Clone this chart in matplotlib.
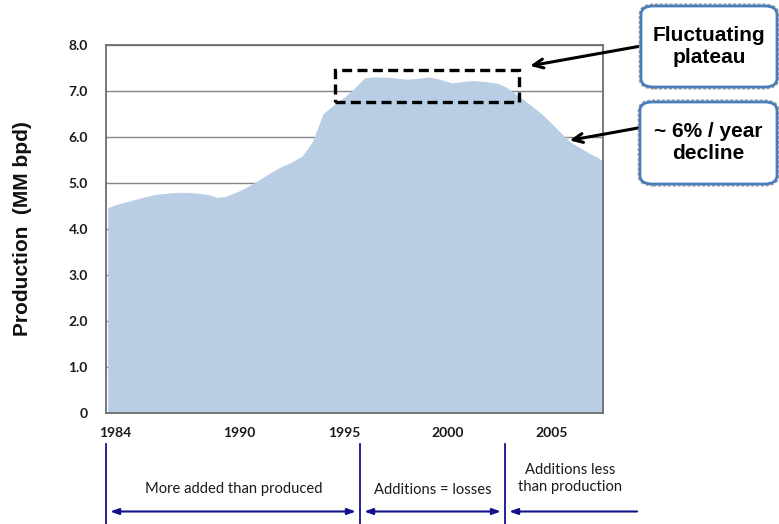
import matplotlib
matplotlib.use("Agg")
import matplotlib.pyplot as plt
from matplotlib.patches import FancyBboxPatch, Rectangle
from matplotlib.transforms import blended_transform_factory

# Production history (decimal year, MM bpd)
years = [1983.65, 1984.0, 1984.5, 1985.0, 1985.5, 1986.0, 1986.5, 1987.0, 1987.5,
         1988.0, 1988.5, 1988.9, 1989.3, 1989.7, 1990.2, 1990.7, 1991.2, 1991.9,
         1992.5, 1993.0, 1993.5, 1994.0, 1994.6, 1995.0, 1995.5, 1996.0, 1996.5,
         1997.2, 1997.6, 1998.0, 1998.6, 1999.1, 1999.6, 2000.2, 2000.7, 2001.2,
         2001.8, 2002.4, 2002.8, 2003.2, 2003.6, 2004.0, 2004.5, 2004.9, 2005.4,
         2005.9, 2006.4, 2006.8, 2007.2, 2007.46]
production = [4.45, 4.52, 4.58, 4.64, 4.70, 4.75, 4.77, 4.79, 4.79,
              4.77, 4.74, 4.68, 4.70, 4.77, 4.87, 5.00, 5.14, 5.33,
              5.45, 5.58, 5.90, 6.50, 6.72, 6.85, 7.05, 7.28, 7.30,
              7.29, 7.27, 7.25, 7.27, 7.30, 7.25, 7.17, 7.20, 7.22,
              7.20, 7.16, 7.08, 6.95, 6.82, 6.68, 6.50, 6.33, 6.10,
              5.88, 5.75, 5.64, 5.55, 5.46]

ytick_values = [0, 1, 2, 3, 4, 5, 6, 7, 8]
ytick_labels = ["0", "1.0", "2.0", "3.0", "4.0", "5.0", "6.0", "7.0", "8.0"]
xtick_values = [1984, 1990, 1995, 2000, 2005]
xtick_labels = ["1984", "1990", "1995", "2000", "2005"]

# Plateau window and phase boundaries (years)
plateau_years = (1994.6, 2003.4)
plateau_levels = (6.76, 7.45)
phase_bounds = [1983.57, 1995.78, 2002.75]
phase_labels = ["More added than produced", "Additions = losses",
                "Additions less\nthan production"]

W, H = 779, 524
fig = plt.figure(figsize=(W / 100, H / 100), dpi=100)
fig.patch.set_facecolor("white")


def fx(px):
    return px / W


def fy(py):
    return 1 - py / H


ax = fig.add_axes([fx(106), fy(412.7), fx(603) - fx(106), fy(44.7) - fy(412.7)])
ax.set_xlim(1983.57, 2007.46)
ax.set_ylim(0, 8)

ax.fill_between(years, production, 0, color="#b9cde5", lw=0, zorder=2)

ax.set_yticks(ytick_values)
ax.set_yticklabels(ytick_labels)
ax.set_xticks(xtick_values)
ax.set_xticklabels(xtick_labels)
ax.tick_params(length=0, pad=13)
ax.tick_params(axis="x", pad=10)
for lab in ax.get_xticklabels() + ax.get_yticklabels():
    lab.set_fontfamily("Lato")
    lab.set_fontweight("bold")
    lab.set_fontsize(10)
    lab.set_color("#1a1a1a")

ax.grid(axis="y", color="#868686", lw=1, zorder=1)
ax.set_axisbelow(True)
for s in ax.spines.values():
    s.set_color("#6e6e6e")
    s.set_linewidth(1.3)

ax.set_ylabel("Production  (MM bpd)", fontfamily="Liberation Sans",
              fontweight="bold", fontsize=15, color="#111111")
ax.yaxis.set_label_coords((32 - 106) / (603 - 106), 0.5)

# Dashed box around the plateau
ax.add_patch(Rectangle((plateau_years[0], plateau_levels[0]),
                       plateau_years[1] - plateau_years[0],
                       plateau_levels[1] - plateau_levels[0],
                       fill=False, ec="black", lw=2.4, ls=(0, (3.0, 1.6)),
                       zorder=4, clip_on=False))

# Callout boxes on the right
for (x0, y0, x1, y1), txt in [((641, 6, 777, 87), "Fluctuating\nplateau"),
                              ((640, 102, 777, 184), "~ 6% / year\ndecline")]:
    shadow = FancyBboxPatch((fx(x0) - 0.001, fy(y1) - 0.002),
                            fx(x1 - x0) + 0.002, fy(y0) - fy(y1) + 0.004,
                            boxstyle="round,pad=0,rounding_size=0.018",
                            transform=fig.transFigure, fc="none",
                            ec="#a0a0a0", lw=2.2, ls=(0, (1, 0.6)), zorder=5)
    fig.add_artist(shadow)
    box = FancyBboxPatch((fx(x0), fy(y1)), fx(x1 - x0), fy(y0) - fy(y1),
                         boxstyle="round,pad=0,rounding_size=0.016",
                         transform=fig.transFigure, fc="white",
                         ec="#4a7ebb", lw=2.0, zorder=6)
    fig.add_artist(box)
    fig.text(fx((x0 + x1) / 2), fy((y0 + y1) / 2), txt, ha="center",
             va="center", fontfamily="Liberation Sans", fontweight="bold",
             fontsize=15, color="black", linespacing=1.2, zorder=7)

# Callout arrows
head = dict(arrowstyle="->,head_length=0.7,head_width=0.32",
            color="black", lw=2.2, shrinkA=0, shrinkB=0)
ax.annotate("", xy=(2003.95, 7.54), xycoords="data",
            xytext=(fx(641), fy(46)), textcoords="figure fraction",
            arrowprops=head, annotation_clip=False, zorder=8)
ax.annotate("", xy=(2005.85, 5.92), xycoords="data",
            xytext=(fx(638), fy(128)), textcoords="figure fraction",
            arrowprops=head, annotation_clip=False, zorder=8)

# Phase markers below the axis
tr = blended_transform_factory(ax.transData, fig.transFigure)
navy = "#12128c"
for b in phase_bounds:
    fig.add_artist(plt.Line2D([b, b], [fy(444), fy(524)], transform=tr,
                              color=navy, lw=1.3))
arrow_y = fy(511.5)
both = dict(arrowstyle="<|-|>,head_length=0.5,head_width=0.18", color=navy,
            lw=1.5, shrinkA=0, shrinkB=0)
ax.annotate("", xy=(phase_bounds[0] + 0.2, arrow_y), xycoords=tr,
            xytext=(phase_bounds[1] - 0.2, arrow_y), textcoords=tr,
            arrowprops=both, annotation_clip=False)
ax.annotate("", xy=(phase_bounds[1] + 0.2, arrow_y), xycoords=tr,
            xytext=(phase_bounds[2] - 0.2, arrow_y), textcoords=tr,
            arrowprops=both, annotation_clip=False)
ax.annotate("", xy=(phase_bounds[2] + 0.2, arrow_y), xycoords=tr,
            xytext=(2009.1, arrow_y), textcoords=tr,
            arrowprops=dict(arrowstyle="-|>,head_length=0.5,head_width=0.18",
                            color=navy, lw=1.5, shrinkA=0, shrinkB=0),
            annotation_clip=False)

text_kw = dict(ha="center", va="center", fontfamily="Lato", fontsize=10.6,
               color="#1a1a1a", transform=tr, linespacing=1.2)
fig.text((phase_bounds[0] + phase_bounds[1]) / 2 + 0.05, fy(489.5),
         phase_labels[0], **text_kw)
fig.text((phase_bounds[1] + phase_bounds[2]) / 2, fy(489.5),
         phase_labels[1], **text_kw)
fig.text(2005.9, fy(478.5), phase_labels[2], **text_kw)

fig.savefig("out.png", dpi=100)
